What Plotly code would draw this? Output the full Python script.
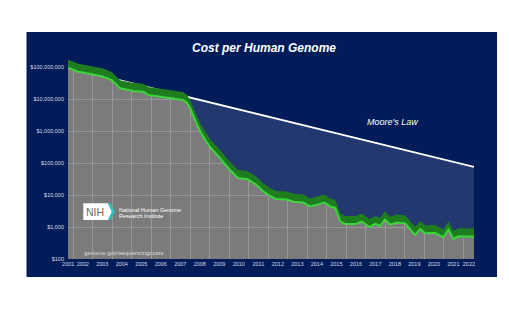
import plotly.graph_objects as go

# Cost per human genome (USD), sampled along the NHGRI sequencing-cost curve
years = [2001.74, 2002.27, 2002.96, 2003.55, 2003.98, 2004.41, 2005.10, 2005.60,
         2005.86, 2006.50, 2006.97, 2007.64, 2007.85, 2008.05, 2008.30, 2008.55,
         2008.80, 2009.05, 2009.50, 2010.00, 2010.45, 2010.95, 2011.40, 2011.75,
         2012.10, 2012.40, 2012.95, 2013.30, 2013.80, 2014.15, 2014.56, 2014.90,
         2015.20, 2015.44, 2015.70, 2015.95, 2016.50, 2016.80, 2017.20, 2017.50,
         2017.74, 2018.00, 2018.26, 2018.60, 2019.03, 2019.54, 2019.80, 2020.05,
         2020.56, 2020.99, 2021.25, 2021.50, 2021.76, 2022.56]
cost = [95e6, 71e6, 59e6, 50e6, 39e6, 21.6e6, 17.7e6, 16.9e6,
        13.3e6, 11.5e6, 10.5e6, 9.3e6, 7.5e6, 4.5e6, 1.9e6, 0.9e6,
        0.5e6, 0.3e6, 150e3, 65e3, 34e3, 31e3, 21e3, 13e3,
        9.3e3, 7.5e3, 7.2e3, 6.2e3, 5.8e3, 4.4e3, 5.1e3, 5.8e3,
        4.3e3, 4.0e3, 1.5e3, 1.25e3, 1.25e3, 1.48e3, 1.0e3, 1.25e3,
        1.08e3, 1.7e3, 1.18e3, 1.37e3, 1.3e3, 560, 870, 640,
        650, 480, 830, 420, 510, 500]

# Moore's Law reference line (straight on a log axis: two end points)
moore_years = [2001.74, 2022.56]
moore_cost = [95e6, 75e3]

# Axis ticks
y_tickvals = [1e2, 1e3, 1e4, 1e5, 1e6, 1e7, 1e8]
y_ticktext = ["$100", "$1,000", "$10,000", "$100,000", "$1,000,000",
              "$10,000,000", "$100,000,000"]
year_labels = list(range(2001, 2023))
year_bounds = list(range(2002, 2023))

NAVY = "#021c59"
NAVY_LIGHT = "#23386f"
GRAY = "#7b7b7b"
GRID = "#979797"
GREEN_DARK = "#1e7d1e"
GREEN_BRIGHT = "#3dd43d"
TICK = "#d6dae6"
FONT = "Liberation Sans, Arial, sans-serif"

W, H = 509, 329
L, R, T, B = 68, 474, 35, 259


def fx(p):
    return (p - L) / (R - L)


def fy(p):
    return (B - p) / (B - T)


x_start, x_end = years[0], years[-1]
band_factor = 1.78
band_top = [c * band_factor for c in cost]

fig = go.Figure()

# dark navy above the Moore's Law line
fig.add_trace(go.Scatter(x=[x_start, x_end], y=[1e10, 1e10], mode="lines",
                         line=dict(width=0), hoverinfo="skip", showlegend=False))
fig.add_trace(go.Scatter(x=moore_years, y=moore_cost, mode="lines",
                         line=dict(width=0), fill="tonexty", fillcolor=NAVY,
                         hoverinfo="skip", showlegend=False))
# lighter navy between Moore's Law and the actual cost
fig.add_trace(go.Scatter(x=years, y=cost, mode="lines", line=dict(width=0),
                         fill="tonexty", fillcolor=NAVY_LIGHT,
                         hoverinfo="skip", showlegend=False))
# Moore's Law line
fig.add_trace(go.Scatter(x=moore_years, y=moore_cost, mode="lines",
                         line=dict(color="white", width=1.8),
                         hoverinfo="skip", showlegend=False))
# green ribbon along the cost curve
fig.add_trace(go.Scatter(x=years, y=band_top, mode="lines", line=dict(width=0),
                         hoverinfo="skip", showlegend=False))
fig.add_trace(go.Scatter(x=years, y=cost, mode="lines",
                         line=dict(color=GREEN_BRIGHT, width=2),
                         fill="tonexty", fillcolor=GREEN_DARK,
                         showlegend=False))

x_tickvals = [x_start + 0.01] + [y + 0.5 for y in year_labels[1:-1]] + [2022.3]

fig.update_xaxes(
    range=[x_start, x_end], showgrid=False, zeroline=False, showline=False,
    tickmode="array", tickvals=x_tickvals, ticktext=[str(y) for y in year_labels],
    ticks="", tickfont=dict(size=5.5, color=TICK, family=FONT),
    minor=dict(tickmode="array", tickvals=year_bounds, showgrid=True,
               gridcolor=GRID, gridwidth=1, ticks=""),
)
fig.update_yaxes(
    type="log", range=[2, 9], showgrid=True, gridcolor=GRID, gridwidth=1,
    zeroline=False, showline=False, tickmode="array", tickvals=y_tickvals,
    ticktext=y_ticktext, ticks="", ticklabelstandoff=3,
    tickfont=dict(size=5.5, color=TICK, family=FONT),
)

shapes = [
    # navy panel behind the whole chart
    dict(type="rect", xref="paper", yref="paper", layer="below",
         x0=fx(26.5), x1=fx(497), y0=fy(277), y1=fy(32),
         fillcolor=NAVY, line=dict(width=0)),
    # gray plotting field
    dict(type="rect", xref="paper", yref="paper", layer="below",
         x0=0, x1=1, y0=0, y1=1, fillcolor=GRAY, line=dict(width=0)),
    # NIH logo: white badge with teal chevron
    dict(type="path", xref="paper", yref="paper", layer="above",
         path=(f"M {fx(83.3)},{fy(203.3)} L {fx(108)},{fy(203.3)} "
               f"L {fx(112)},{fy(211.7)} L {fx(108)},{fy(220)} "
               f"L {fx(83.3)},{fy(220)} Z"),
         fillcolor="white", line=dict(width=0)),
    dict(type="path", xref="paper", yref="paper", layer="above",
         path=(f"M {fx(108)},{fy(203.3)} L {fx(110.6)},{fy(203.3)} "
               f"L {fx(114.6)},{fy(211.7)} L {fx(110.6)},{fy(220)} "
               f"L {fx(108)},{fy(220)} L {fx(112)},{fy(211.7)} Z"),
         fillcolor="#25c6c2", line=dict(width=0)),
]


def note(text, x, y, size, color="white", xanchor="center", xref="paper",
         yref="paper"):
    return dict(text=text, xref=xref, yref=yref, x=x, y=y, showarrow=False,
                xanchor=xanchor, yanchor="middle",
                font=dict(size=size, color=color, family=FONT))


annotations = [
    note("<b><i>Cost per Human Genome</i></b>", fx(263.5), fy(48), 12),
    note("<i>Moore's Law</i>", 2018.36, 6.29, 9, xref="x", yref="y"),
    note("genome.gov/sequencingcosts", fx(123.8), fy(252.7), 6, "#dcdcdc"),
    note("NIH", fx(95.2), fy(211.8), 10.5, "#6a6b6e"),
    note("National Human Genome", fx(117.3), fy(210), 5.5, xanchor="left"),
    note("Research Institute", fx(117.3), fy(215.7), 5.5, xanchor="left"),
]

fig.update_layout(
    width=W, height=H,
    margin=dict(l=L, r=W - R, t=T, b=H - B),
    paper_bgcolor="white", plot_bgcolor="rgba(0,0,0,0)",
    shapes=shapes, annotations=annotations,
    font=dict(family=FONT),
)

fig.write_html("out.html")
